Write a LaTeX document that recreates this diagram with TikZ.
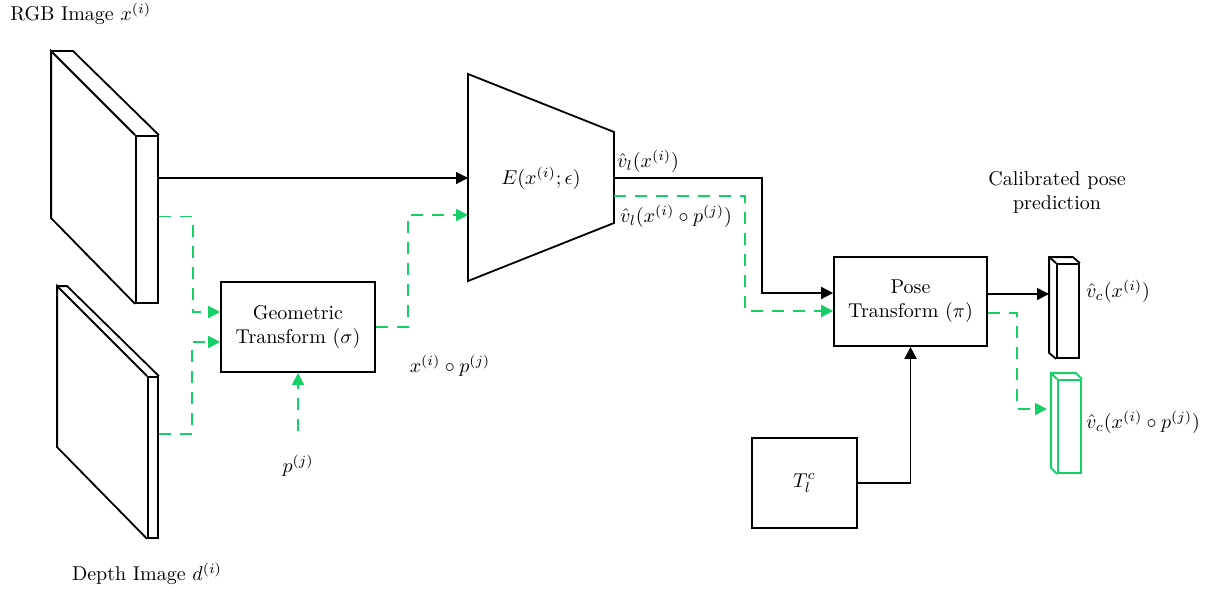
\documentclass[tikz,border=0pt]{standalone}
\usepackage{amsmath,amssymb}
\usepackage{xcolor}
\usepackage{tikz}
\usetikzlibrary{arrows.meta,positioning}
\definecolor{augreen}{RGB}{20,208,102}
\definecolor{ink}{RGB}{0,0,0}

\begin{document}
\begin{tikzpicture}[
  x=0.5pt, y=-0.5pt, font=\normalsize,
  box/.style={draw=ink, line width=0.9pt, align=center, inner sep=0pt},
  slab/.style={draw=ink, line width=0.9pt, fill=white, inner sep=0pt},
  arr/.style={-{Triangle[length=6pt,width=6pt]}, line width=0.9pt, ink},
  garr/.style={-{Triangle[length=6pt,width=6pt]}, line width=0.9pt, augreen, dash pattern=on 6pt off 4.5pt},
  lbl/.style={inner sep=1pt, align=center},
]
\useasboundingbox (0,0) rectangle (1208,593);
% input slabs
\node[slab, minimum width=11pt, minimum height=83.5pt] (rgbf) at (147,219.5) {};
\draw[line width=0.9pt] (rgbf.north west) -- ++(-84,-84) -- ++(0,167) -- (rgbf.south west);
\draw[line width=0.9pt] ([shift={(-84,-84)}]rgbf.north west) -- ++(22,0) -- (rgbf.north east);
\node[lbl, anchor=west] (rgbl) at (8,14) {RGB Image $x^{(i)}$};
\node[slab, minimum width=5pt, minimum height=80.5pt] (depf) at (153,457.5) {};
\draw[line width=0.9pt] (depf.north west) -- ++(-90,-90) -- ++(0,161) -- (depf.south west);
\draw[line width=0.9pt] ([shift={(-90,-90)}]depf.north west) -- ++(10,0) -- (depf.north east);
\node[lbl] (depl) at (147,574) {Depth Image $d^{(i)}$};
% geometric transform
\node[box, minimum width=77pt, minimum height=45pt] (geo) at (298,327) {Geometric\\Transform ($\sigma$)};
\node[lbl] (pj) at (298,466) {$p^{(j)}$};
\node[lbl] (xp) at (450,366) {$x^{(i)}\circ p^{(j)}$};
% encoder
\coordinate (enctl) at (468,74);
\coordinate (enctr) at (614,132);
\coordinate (encbr) at (614,223);
\coordinate (encbl) at (468,281);
\draw[line width=0.9pt] (enctl) -- (enctr) -- (encbr) -- (encbl) -- cycle;
\node[lbl] (enc) at (541,178) {$E(x^{(i)};\epsilon)$};
\coordinate (encin) at (468,178);
\coordinate (encing) at (468,215);
\coordinate (encout) at (614,178);
\coordinate (encoutg) at (614,196);
\node[lbl] (vl) at (648,161) {$\hat{v}_l(x^{(i)})$};
\node[lbl] (vlg) at (676,216) {$\hat{v}_l(x^{(i)}\circ p^{(j)})$};
% pose transform
\node[box, minimum width=76.5pt, minimum height=44.5pt] (pose) at (910.5,301.5) {Pose\\Transform ($\pi$)};
\node[box, minimum width=52.5pt, minimum height=45pt] (tlc) at (804.5,483) {$T_l^c$};
% outputs
\node[lbl] (calib) at (1057,192) {Calibrated pose\\prediction};
\node[slab, minimum width=11pt, minimum height=47pt] (outb) at (1068,311) {};
\draw[line width=0.9pt] (outb.south west) -- ++(-7,-6) -- ([shift={(-7,-6)}]outb.north west) -- ([shift={(-7,-6)}]outb.north east) -- (outb.north east);
\draw[line width=0.9pt] (outb.north west) -- ++(-7,-6);
\node[slab, draw=augreen, minimum width=11.5pt, minimum height=46.5pt] (outg) at (1069.5,426.5) {};
\draw[line width=0.9pt, augreen] (outg.south west) -- ++(-6,-6) -- ([shift={(-6,-6)}]outg.north west) -- ([shift={(-6,-6)}]outg.north east) -- (outg.north east);
\draw[line width=0.9pt, augreen] (outg.north west) -- ++(-6,-6);
\coordinate (outbin) at (1049,294);
\coordinate (outgin) at (1047,409);
\node[lbl] (vc) at (1118,291) {$\hat{v}_c(x^{(i)})$};
\node[lbl] (vcg) at (1143,422) {$\hat{v}_c(x^{(i)}\circ p^{(j)})$};
% connectors
\draw[arr] (rgbf.east |- encin) -- (encin);
\draw[garr] ([yshift=1.5pt]rgbf.east) -- ++(34,0) |- ([yshift=7.5pt]geo.west);
\draw[garr] ([yshift=11.75pt]depf.east) -- ++(33,0) |- ([yshift=-7.5pt]geo.west);
\draw[garr, shorten <=11pt] (pj.north) -- (geo.south);
\draw[garr] (geo.east) -- ++(32,0) |- (encing);
\draw[arr] (encout) -- ++(148,0) |- ([yshift=4.25pt]pose.west);
\draw[garr] (encoutg) -- ++(131,0) |- ([yshift=-4.75pt]pose.west);
\draw[arr] (tlc.east) -| (pose.south);
\draw[arr] ([yshift=3.75pt]pose.east) -- (outbin);
\draw[garr] ([yshift=-5.75pt]pose.east) -- ++(29,0) |- (outgin);
\end{tikzpicture}
\end{document}
